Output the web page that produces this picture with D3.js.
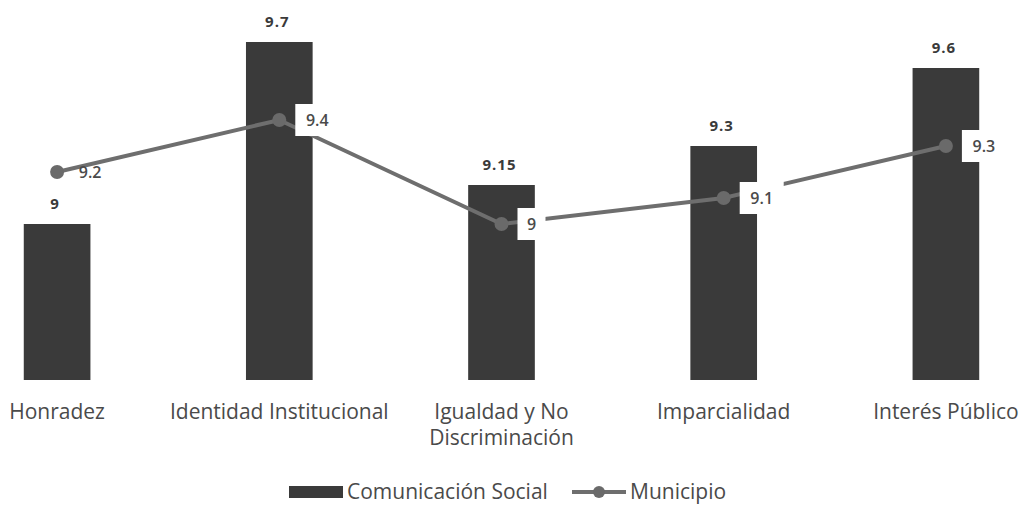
<!DOCTYPE html>
<html><head><meta charset="utf-8">
<script src="https://cdnjs.cloudflare.com/ajax/libs/d3/7.8.5/d3.min.js"></script>
<style>body{margin:0;background:#fff}svg{display:block}</style>
</head><body>
<script>
const categories = ["Honradez", "Identidad Institucional", "Igualdad y No Discriminación", "Imparcialidad", "Interés Público"];
const categoryLines = [["Honradez"], ["Identidad Institucional"], ["Igualdad y No", "Discriminación"], ["Imparcialidad"], ["Interés Público"]];
const comunicacionSocial = [9, 9.7, 9.15, 9.3, 9.6];
const comunicacionLabels = ["9", "9.7", "9.15", "9.3", "9.6"];
const municipio = [9.2, 9.4, 9, 9.1, 9.3];
const municipioLabels = ["9.2", "9.4", "9", "9.1", "9.3"];
const seriesNames = ["Comunicación Social", "Municipio"];

const W = 1028, H = 508;
const svg = d3.select("body").append("svg").attr("width", W).attr("height", H);
const font = "'Open Sans', 'Noto Sans', sans-serif";

const x = d3.scalePoint().domain(categories).range([-54, 1057]).padding(0.5);
const step = x.step();
const barW = step * 0.3;
const y = d3.scaleLinear().domain([8.4, 9.7]).range([380, 42]);

const barColor = "#3a3a3a", lineColor = "#6e6e6e", textColor = "#4a4a4a";

// bars
svg.append("g").selectAll("rect").data(categories).join("rect")
  .attr("x", d => x(d) - barW / 2)
  .attr("y", (d, i) => y(comunicacionSocial[i]))
  .attr("width", barW)
  .attr("height", (d, i) => y(8.4) - y(comunicacionSocial[i]))
  .attr("fill", barColor);

// bar labels
svg.append("g").selectAll("text").data(categories).join("text")
  .attr("x", d => x(d) - 2)
  .attr("y", (d, i) => y(comunicacionSocial[i]) - 15)
  .attr("text-anchor", "middle")
  .attr("font-family", font).attr("font-size", 15).attr("font-weight", "bold")
  .attr("letter-spacing", 1)
  .attr("fill", "#3a3a3a")
  .text((d, i) => comunicacionLabels[i]);

// line
const line = d3.line().x(d => x(d.c)).y(d => y(d.v));
const pts = categories.map((c, i) => ({c, v: municipio[i], l: municipioLabels[i]}));
svg.append("path").datum(pts).attr("d", line)
  .attr("fill", "none").attr("stroke", lineColor).attr("stroke-width", 4);
svg.append("g").selectAll("circle").data(pts).join("circle")
  .attr("cx", d => x(d.c)).attr("cy", d => y(d.v)).attr("r", 7)
  .attr("fill", "#6a6a6a");

// line labels with white boxes
const lg = svg.append("g").selectAll("g").data(pts).join("g")
  .attr("transform", d => `translate(${x(d.c) + 16},${y(d.v)})`);
lg.filter((d, i) => i > 0).append("rect")
  .attr("x", 0).attr("y", -16).attr("width", d => d.l.length > 1 ? 44 : 28).attr("height", 32)
  .attr("fill", "#fff");
lg.append("text")
  .attr("x", (d, i) => i === 0 ? 17 : (d.l.length > 1 ? 22 : 14))
  .attr("y", 6)
  .attr("text-anchor", "middle")
  .attr("font-family", font).attr("font-size", 16).attr("font-weight", 600)
  .attr("fill", "#4a4a4a")
  .text(d => d.l);

// category labels
const cl = svg.append("g").selectAll("text").data(categories).join("text")
  .attr("x", d => x(d))
  .attr("y", 419)
  .attr("text-anchor", "middle")
  .attr("font-family", font).attr("font-size", 21)
  .attr("fill", textColor);
cl.selectAll("tspan").data((d, i) => categoryLines[i]).join("tspan")
  .attr("x", function() { return d3.select(this.parentNode).attr("x"); })
  .attr("dy", (d, j) => j === 0 ? 0 : 26)
  .text(d => d);

// legend
const leg = svg.append("g").attr("transform", "translate(289,492)");
leg.append("rect").attr("x", 0).attr("y", -6).attr("width", 54).attr("height", 12).attr("fill", barColor);
leg.append("text").attr("x", 58).attr("y", 7).attr("font-family", font).attr("font-size", 21)
  .attr("fill", textColor).text(seriesNames[0]);
leg.append("line").attr("x1", 283).attr("x2", 337).attr("y1", 0).attr("y2", 0)
  .attr("stroke", lineColor).attr("stroke-width", 4);
leg.append("circle").attr("cx", 310).attr("cy", 0).attr("r", 6).attr("fill", "#6a6a6a");
leg.append("text").attr("x", 341).attr("y", 7).attr("font-family", font).attr("font-size", 21)
  .attr("fill", textColor).text(seriesNames[1]);
</script>
</body></html>
